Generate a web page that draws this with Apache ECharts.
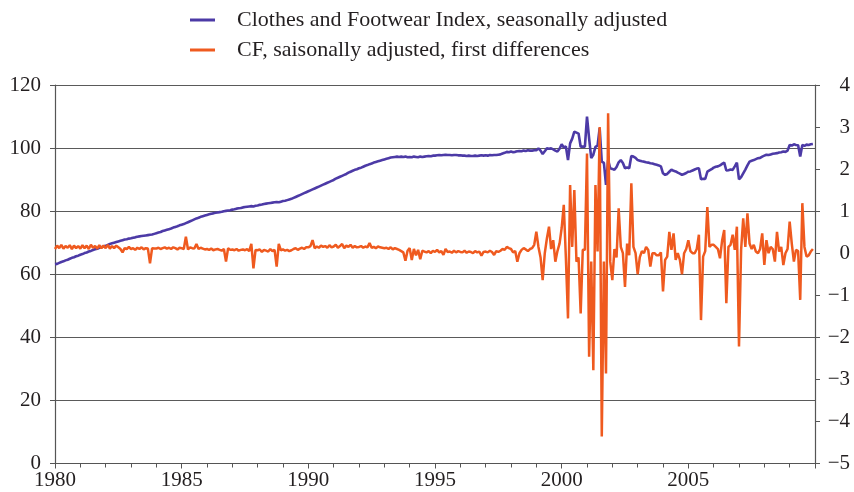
<!DOCTYPE html>
<html>
<head>
<meta charset="utf-8">
<script src="https://cdn.jsdelivr.net/npm/echarts@6/dist/echarts.min.js"></script>
<style>
html,body{margin:0;padding:0;background:#fff;}
#chart{width:854px;height:492px;}
</style>
</head>
<body>
<div id="chart"></div>
<script>
// Monthly data, Jan 1980 - Dec 2009 (one row per year)
const startYear = 1980;
const seriesNames = ['Clothes and Footwear Index, seasonally adjusted', 'CF, saisonally adjusted, first differences'];
const xTickLabels = ['1980', '1985', '1990', '1995', '2000', '2005'];
const leftTicks = [0, 20, 40, 60, 80, 100, 120];
const rightTicks = [-5, -4, -3, -2, -1, 0, 1, 2, 3, 4];

const indexValues = [
  63.2, 63.3, 63.6, 63.9, 64.1, 64.4, 64.6, 64.9, 65.2, 65.4, 65.7, 65.9,
  66.2, 66.4, 66.7, 66.9, 67.2, 67.4, 67.7, 67.9, 68.1, 68.4, 68.6, 68.8,
  69.0, 69.3, 69.6, 69.8, 70.0, 70.2, 70.4, 70.6, 70.8, 71.0, 71.1, 71.3,
  71.4, 71.6, 71.7, 71.9, 72.0, 72.1, 72.2, 72.3, 72.4, 72.5, 72.6, 72.8,
  73.0, 73.2, 73.4, 73.7, 73.9, 74.1, 74.3, 74.5, 74.8, 75.0, 75.2, 75.5,
  75.7, 75.9, 76.2, 76.5, 76.8, 77.1, 77.4, 77.7, 77.9, 78.2, 78.4, 78.6,
  78.8, 79.0, 79.2, 79.3, 79.5, 79.6, 79.7, 79.8, 80.0, 80.1, 80.2, 80.3,
  80.5, 80.6, 80.8, 80.9, 81.0, 81.2, 81.3, 81.4, 81.5, 81.6, 81.5, 81.7,
  81.8, 82.0, 82.1, 82.3, 82.4, 82.5, 82.6, 82.7, 82.8, 82.9, 82.8, 83.0,
  83.2, 83.3, 83.5, 83.7, 83.9, 84.2, 84.5, 84.8, 85.1, 85.4, 85.7, 86.0,
  86.3, 86.6, 86.9, 87.2, 87.5, 87.8, 88.1, 88.4, 88.7, 89.0, 89.3, 89.6,
  89.9, 90.3, 90.6, 90.9, 91.2, 91.5, 91.8, 92.2, 92.5, 92.8, 93.1, 93.3,
  93.6, 93.8, 94.1, 94.4, 94.6, 94.9, 95.1, 95.4, 95.6, 95.8, 96.0, 96.2,
  96.4, 96.6, 96.8, 97.0, 97.1, 97.2, 97.3, 97.2, 97.3, 97.2, 97.3, 97.1,
  97.2, 97.1, 97.3, 97.2, 97.1, 97.3, 97.2, 97.3, 97.4, 97.5, 97.4, 97.6,
  97.6, 97.7, 97.8, 97.7, 97.8, 97.9, 97.8, 97.8, 97.7, 97.8, 97.8, 97.7,
  97.7, 97.6, 97.6, 97.5, 97.6, 97.5, 97.5, 97.6, 97.5, 97.6, 97.7, 97.6,
  97.7, 97.6, 97.8, 97.7, 97.8, 97.8, 97.9, 98.0, 98.3, 98.5, 98.8, 98.7,
  98.9, 98.7, 98.8, 99.0, 99.1, 99.0, 99.2, 99.1, 99.3, 99.2, 99.2, 99.3,
  99.3, 99.9, 99.2, 98.1, 99.0, 99.9, 99.8, 99.9, 99.6, 99.2, 98.9, 99.8,
  101.2, 100.2, 100.5, 96.2, 101.5, 103.0, 105.2, 104.9, 104.6, 100.4, 100.5, 100.4,
  110.0, 103.1, 96.8, 97.9, 100.4, 100.8, 106.3, 95.7, 95.3, 88.3, 96.2, 93.6,
  93.4, 93.1, 94.0, 95.5, 96.2, 95.3, 93.6, 93.9, 93.6, 97.5, 97.3, 96.9,
  96.2, 96.0, 95.8, 95.7, 95.5, 95.4, 95.2, 95.1, 94.9, 94.7, 94.5, 94.2,
  92.0, 91.5, 91.8, 92.5, 93.2, 92.8, 92.6, 92.2, 91.9, 91.5, 91.8, 92.1,
  92.5, 92.6, 92.9, 93.2, 93.5, 93.6, 90.1, 90.3, 90.2, 92.5, 92.9, 93.3,
  93.8, 94.1, 94.2, 94.5, 95.0, 95.4, 92.9, 93.0, 93.2, 93.1, 94.2, 95.4,
  90.1, 90.8, 92.0, 93.2, 94.5, 95.7, 96.0, 96.2, 96.5, 96.8, 96.9, 97.3,
  97.6, 97.9, 97.8, 98.0, 98.2, 98.3, 98.4, 98.6, 98.7, 98.9, 98.8, 99.2,
  101.0, 100.8, 101.2, 101.0, 100.9, 97.3, 101.0, 100.7, 101.1, 101.0, 101.2, 101.3
];

const diffValues = [
  0.10, 0.18, 0.12, 0.20, 0.11, 0.17, 0.13, 0.19, 0.10, 0.18, 0.12, 0.17,
  0.11, 0.19, 0.12, 0.18, 0.10, 0.20, 0.13, 0.17, 0.11, 0.19, 0.12, 0.18,
  0.12, 0.20, 0.11, 0.17, 0.12, 0.18, 0.14, 0.10, 0.02, 0.12, 0.10, 0.15,
  0.10, 0.12, 0.08, 0.13, 0.10, 0.14, 0.09, 0.12, 0.11, -0.24, 0.12, 0.11,
  0.11, 0.13, 0.10, 0.12, 0.14, 0.11, 0.13, 0.10, 0.14, 0.12, 0.09, 0.13,
  0.12, 0.10, 0.39, 0.09, 0.14, 0.12, 0.11, 0.22, 0.10, 0.13, 0.11, 0.09,
  0.10, 0.08, 0.11, 0.07, 0.09, 0.10, 0.08, 0.06, 0.10, -0.20, 0.12, 0.08,
  0.09, 0.07, 0.10, 0.06, 0.08, 0.09, 0.07, 0.10, 0.05, 0.22, -0.36, 0.08,
  0.07, 0.09, 0.03, 0.08, 0.06, 0.04, 0.10, 0.05, 0.08, -0.32, 0.22, 0.07,
  0.09, 0.06, 0.08, 0.05, 0.07, 0.10, 0.12, 0.08, 0.11, 0.13, 0.10, 0.14,
  0.14, 0.17, 0.31, 0.12, 0.16, 0.13, 0.18, 0.15, 0.17, 0.13, 0.19, 0.14,
  0.16, 0.20, 0.13, 0.17, 0.22, 0.12, 0.18, 0.15, 0.20, 0.13, 0.17, 0.14,
  0.15, 0.17, 0.13, 0.16, 0.14, 0.24, 0.13, 0.15, 0.12, 0.16, 0.14, 0.13,
  0.12, 0.13, 0.10, 0.14, 0.09, 0.12, 0.10, 0.08, 0.05, 0.02, -0.18, 0.06,
  0.12, -0.16, 0.10, -0.05, 0.08, -0.14, 0.06, 0.04, 0.02, 0.05, 0.00, 0.06,
  0.03, 0.08, 0.02, 0.05, -0.04, 0.10, 0.03, 0.04, 0.01, 0.06, 0.02, 0.05,
  0.03, 0.02, 0.06, 0.01, 0.04, 0.03, 0.00, 0.05, 0.02, 0.04, -0.06, 0.03,
  0.04, 0.02, 0.06, 0.03, -0.04, 0.05, 0.03, 0.06, 0.10, 0.08, 0.15, 0.12,
  0.10, 0.02, 0.05, -0.20, 0.00, 0.08, 0.12, 0.09, 0.05, 0.10, 0.12, 0.20,
  0.51, 0.15, -0.10, -0.64, 0.00, 0.35, 0.63, 0.10, 0.31, -0.20, 0.05, 0.23,
  0.60, 1.15, -0.12, -1.55, 1.62, 0.15, 1.50, -0.20, -0.10, -1.43, 0.08, 0.08,
  2.37, -2.46, -0.20, -2.78, 1.62, 0.04, 3.00, -4.36, -0.20, -2.86, 3.33, -0.20,
  -0.64, 0.10, -0.10, 1.07, 0.15, 0.00, -0.80, 0.23, -0.05, 1.66, 0.15, 0.00,
  -0.50, -0.10, 0.05, 0.00, 0.15, 0.08, -0.32, 0.00, 0.00, -0.05, -0.05, 0.02,
  -0.91, -0.16, -0.08, 0.51, 0.08, 0.47, -0.16, 0.00, -0.16, -0.50, 0.00, 0.10,
  0.31, 0.05, 0.00, 0.00, 0.10, 0.44, -1.59, -0.08, 0.05, 1.10, 0.15, 0.20,
  0.20, 0.15, 0.10, -0.12, 0.30, 0.55, -1.19, 0.15, 0.20, 0.44, 0.08, 0.63,
  -2.22, 0.08, 0.83, 0.15, 0.95, 0.23, 0.10, 0.20, 0.04, 0.00, 0.10, 0.47,
  -0.28, 0.31, 0.00, 0.15, 0.10, -0.20, 0.51, 0.04, 0.15, -0.28, 0.00, 0.10,
  0.75, 0.23, -0.20, 0.08, 0.05, -1.11, 1.19, 0.15, -0.08, -0.05, 0.04, 0.10
];

const monthX = i => startYear + i / 12;
const indexData = indexValues.map((v, i) => [monthX(i), v]);
const diffData = diffValues.map((v, i) => [monthX(i), v]);

const FONT = 'Liberation Serif';
const minus = s => String(s).replace('-', '\u2212');
const PURPLE = '#4c3aa6';
const ORANGE = '#ef5a1f';

const chart = echarts.init(document.getElementById('chart'), null, {renderer: 'canvas'});
chart.setOption({
  animation: false,
  backgroundColor: '#ffffff',
  legend: {
    orient: 'vertical',
    left: 190,
    top: 9,
    padding: 0,
    itemGap: 8,
    itemWidth: 25,
    itemHeight: 3,
    icon: 'rect',
    textStyle: {fontFamily: FONT, fontSize: 22, color: '#231f20', padding: [0, 0, 0, 17]},
    data: seriesNames
  },
  grid: {left: 55, right: 39, top: 85, bottom: 28.5, containLabel: false},
  xAxis: {
    type: 'value',
    min: 1980, max: 2010, interval: 5,
    axisLine: {show: true, onZero: false, lineStyle: {color: '#555', width: 1.2}},
    axisTick: {show: true, length: 5, lineStyle: {color: '#555'}},
    minorTick: {show: true, splitNumber: 5, length: 4, lineStyle: {color: '#555'}},
    splitLine: {show: false},
    axisLabel: {
      fontFamily: FONT, fontSize: 21, color: '#231f20', margin: 6,
      formatter: v => xTickLabels.includes(String(v)) ? String(v) : ''
    }
  },
  yAxis: [
    {
      type: 'value', position: 'left',
      min: leftTicks[0], max: leftTicks[leftTicks.length - 1], interval: 20,
      axisLine: {show: true, lineStyle: {color: '#555', width: 1.2}},
      axisTick: {show: true, length: 5, lineStyle: {color: '#555'}},
      splitLine: {show: true, lineStyle: {color: '#5a5a5a', width: 1}},
      axisLabel: {fontFamily: FONT, fontSize: 21, color: '#231f20', margin: 14}
    },
    {
      type: 'value', position: 'right',
      min: rightTicks[0], max: rightTicks[rightTicks.length - 1], interval: 1,
      axisLine: {show: true, lineStyle: {color: '#555', width: 1.2}},
      axisTick: {show: true, length: 5, lineStyle: {color: '#555'}},
      splitLine: {show: false},
      axisLabel: {fontFamily: FONT, fontSize: 21, color: '#231f20', margin: 35, align: 'right',
        formatter: v => minus(v)}
    }
  ],
  series: [
    {
      name: seriesNames[0], type: 'line', yAxisIndex: 0, data: indexData,
      showSymbol: false, symbol: 'none', z: 2,
      lineStyle: {color: PURPLE, width: 2.6},
      itemStyle: {color: PURPLE}
    },
    {
      name: seriesNames[1], type: 'line', yAxisIndex: 1, data: diffData,
      showSymbol: false, symbol: 'none', z: 3,
      lineStyle: {color: ORANGE, width: 2.5},
      itemStyle: {color: ORANGE}
    }
  ]
});
</script>
</body>
</html>
